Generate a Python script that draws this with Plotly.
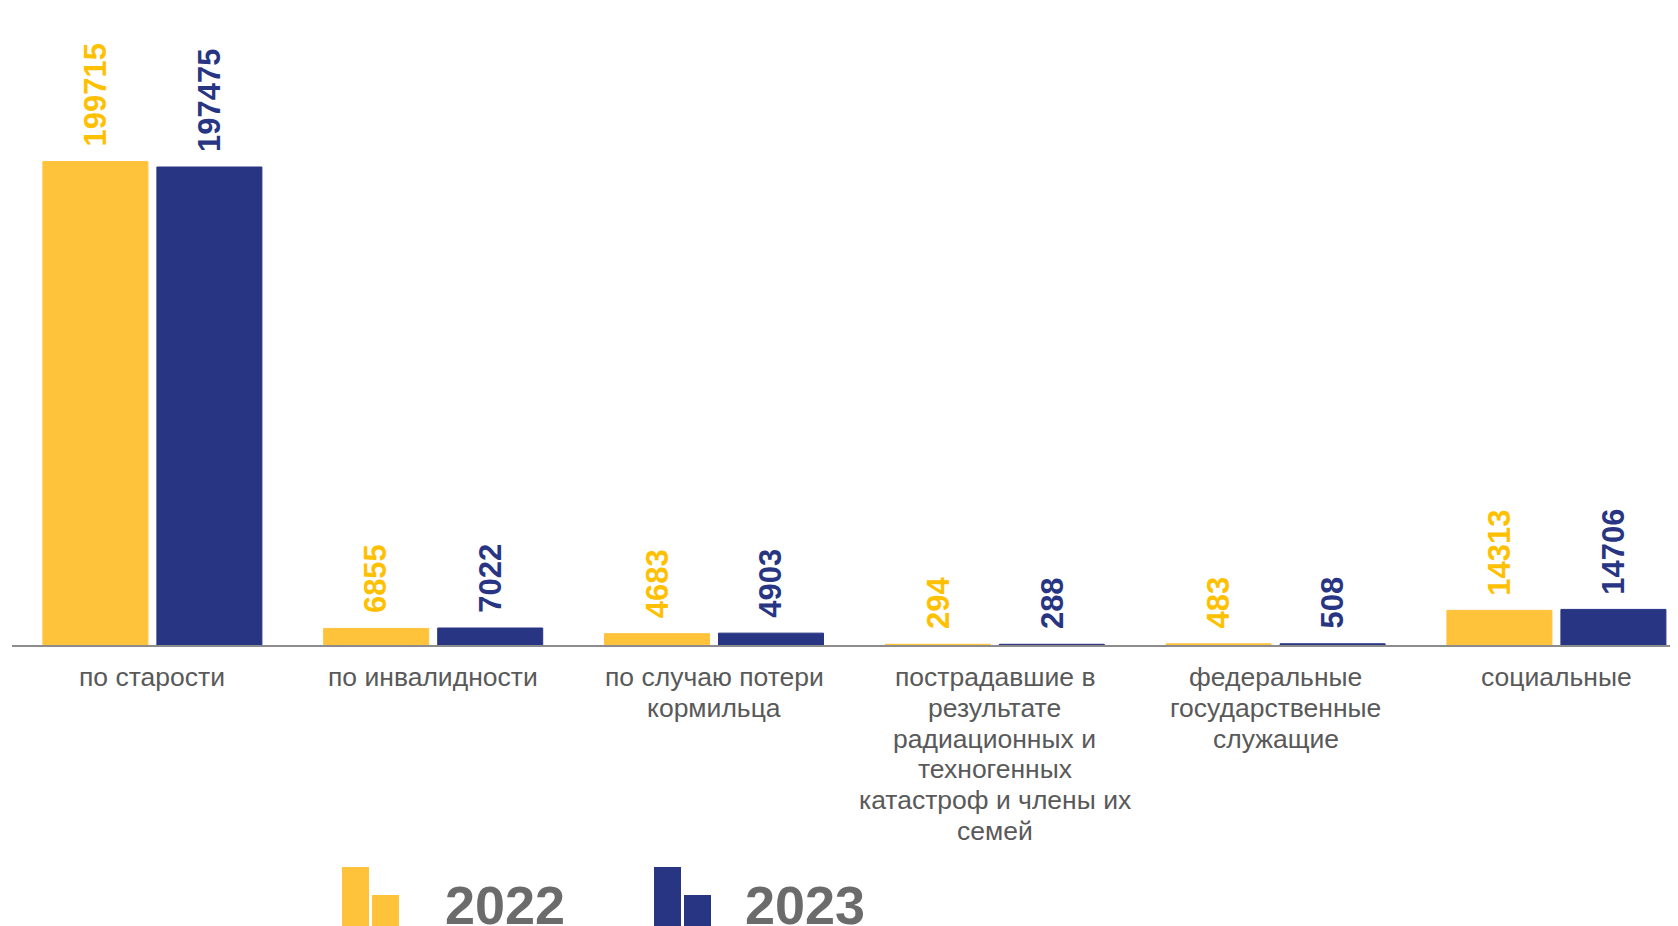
import plotly.graph_objects as go

categories = [
    "по старости",
    "по инвалидности",
    "по случаю потери<br>кормильца",
    "пострадавшие в<br>результате<br>радиационных и<br>техногенных<br>катастроф и члены их<br>семей",
    "федеральные<br>государственные<br>служащие",
    "социальные",
]
values_2022 = [199715, 6855, 4683, 294, 483, 14313]
values_2023 = [197475, 7022, 4903, 288, 508, 14706]
years = ["2022", "2023"]

YELLOW_BAR = "#FFC23B"
YELLOW_TXT = "#FFC000"
NAVY = "#283583"
GREY = "#595959"

# page is drawn with an 8px body margin; plot area spans page x 12..1678, y 8..645
W, H = 1670, 918
PLOT_W, PLOT_H = 1666, 637


def px(page_x):
    return (page_x - 12) / PLOT_W


def py(page_y):
    return (645 - page_y) / PLOT_H


idx = list(range(len(categories)))

fig = go.Figure()
fig.add_trace(go.Bar(x=idx, y=values_2022, name=years[0],
                     marker=dict(color=YELLOW_BAR, line=dict(color=YELLOW_BAR, width=1))))
fig.add_trace(go.Bar(x=idx, y=values_2023, name=years[1],
                     marker=dict(color=NAVY, line=dict(color=NAVY, width=1))))

# value labels, rotated, above each bar
offset = 0.203
for vals, sign, color in [(values_2022, -1, YELLOW_TXT), (values_2023, 1, NAVY)]:
    for i, v in zip(idx, vals):
        fig.add_annotation(x=i + sign * offset, y=v, text=str(v), showarrow=False,
                           textangle=-90, yanchor="bottom", yshift=13,
                           font=dict(family="Liberation Sans", size=31, color=color, weight="bold"))

# category labels, one annotation per line for tighter line spacing
for i, cat in zip(idx, categories):
    for k, line in enumerate(cat.split("<br>")):
        fig.add_annotation(x=i, y=py(677 + k * 30.8), yref="paper", text=line,
                           showarrow=False, yanchor="middle",
                           font=dict(family="Liberation Sans", size=26.5, color=GREY))

# custom legend (icon of two bars + year)
for x0, color, year, tx in [(342, YELLOW_BAR, years[0], 443), (654, NAVY, years[1], 743)]:
    fig.add_shape(type="rect", xref="paper", yref="paper", x0=px(x0), x1=px(x0 + 27),
                  y0=py(940), y1=py(867), fillcolor=color, line_width=0)
    fig.add_shape(type="rect", xref="paper", yref="paper", x0=px(x0 + 30), x1=px(x0 + 57),
                  y0=py(940), y1=py(895), fillcolor=color, line_width=0)
    fig.add_annotation(xref="paper", yref="paper", x=px(tx), y=py(873),
                       xanchor="left", yanchor="top", text=year, showarrow=False,
                       font=dict(family="Liberation Sans", size=54,
                                 color="#6B6B6B", weight="bold"))

fig.update_layout(
    width=W, height=H,
    margin=dict(l=4, r=0, t=0, b=H - PLOT_H),
    plot_bgcolor="white", paper_bgcolor="white",
    bargap=0.188, bargroupgap=0.079,
    showlegend=False,
    font=dict(family="Liberation Sans", color=GREY, size=24),
)
fig.update_xaxes(tickvals=idx, range=[-0.5, 5.433], showticklabels=False,
                 showline=True, linecolor="#8C8C8C", linewidth=2,
                 showgrid=False, ticks="")
fig.update_yaxes(range=[0, 637 / 0.0024205], visible=False, showgrid=False, zeroline=False)

fig.write_html("out.html")
